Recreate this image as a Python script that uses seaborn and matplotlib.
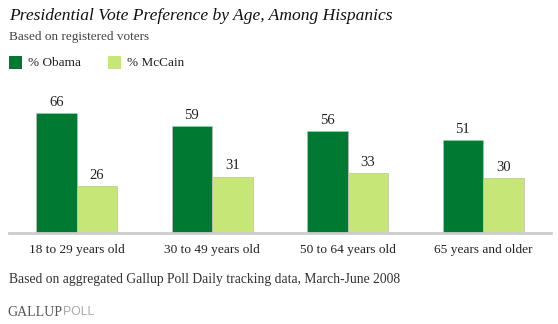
import matplotlib
matplotlib.use("Agg")
import matplotlib.pyplot as plt
import seaborn as sns
import pandas as pd
from matplotlib.patches import Rectangle

categories = ["18 to 29 years old", "30 to 49 years old", "50 to 64 years old", "65 years and older"]
series_names = ["% Obama", "% McCain"]
obama = [66, 59, 56, 51]
mccain = [26, 31, 33, 30]
colors = ["#007A33", "#C6E777"]

df = pd.DataFrame({
    "age": categories * 2,
    "value": obama + mccain,
    "series": [series_names[0]] * 4 + [series_names[1]] * 4,
})

sns.set_theme(style="white")
plt.rcParams["font.family"] = ["Liberation Serif", "DejaVu Serif"]

fig = plt.figure(figsize=(5.58, 3.24), dpi=100)
W, H = 558, 324
ax = fig.add_axes([9 / W, (H - 233) / H, 542 / W, 136.4 / H])

sns.barplot(data=df, x="age", y="value", hue="series", palette=colors,
            width=0.6, ax=ax, legend=False, edgecolor="#BBBBBB", linewidth=0.5,
            saturation=1)
ax.set_xlim(-0.5, 3.5)
ax.set_ylim(0, 75)
ax.set_xlabel("")
ax.set_ylabel("")
ax.set_yticks([])
for s in ["top", "right", "left"]:
    ax.spines[s].set_visible(False)
ax.spines["bottom"].set_color("#CCCCCC")
ax.spines["bottom"].set_linewidth(2)
ax.tick_params(axis="x", length=0, pad=8, labelsize=9.6, labelcolor="#222222")

for cont in ax.containers:
    ax.bar_label(cont, padding=3, fontsize=10.5, color="#222222")

fig.text(9 / W, 1 - 16 / H, "Presidential Vote Preference by Age, Among Hispanics",
         fontsize=12.6, style="italic", color="#111111", va="center", ha="left")
fig.text(9 / W, 1 - 37 / H, "Based on registered voters", fontsize=9.5,
         color="#444444", va="center", ha="left")

# legend
for x0, name, c in [(9, series_names[0], colors[0]), (108, series_names[1], colors[1])]:
    fig.patches.append(Rectangle((x0 / W, 1 - 69 / H), 13 / W, 13 / H,
                                 transform=fig.transFigure, facecolor=c, edgecolor="none"))
    fig.text((x0 + 19) / W, 1 - 62.5 / H, name, fontsize=9.5, color="#222222",
             va="center", ha="left")

fig.text(9 / W, 1 - 279 / H, "Based on aggregated Gallup Poll Daily tracking data, March-June 2008",
         fontsize=9.8, color="#333333", va="center", ha="left")

t1 = fig.text(7 / W, 1 - 312 / H, "GALLUP", fontsize=10, color="#555555",
              va="center", ha="left", family=["Liberation Serif"])
fig.canvas.draw()
bb = t1.get_window_extent()
fig.text((bb.x1 + 1.5) / W, 1 - 312 / H, "POLL", fontsize=8.8, color="#AAAAAA",
         va="center", ha="left", family=["Liberation Sans"])

fig.savefig("out.png", dpi=100)
